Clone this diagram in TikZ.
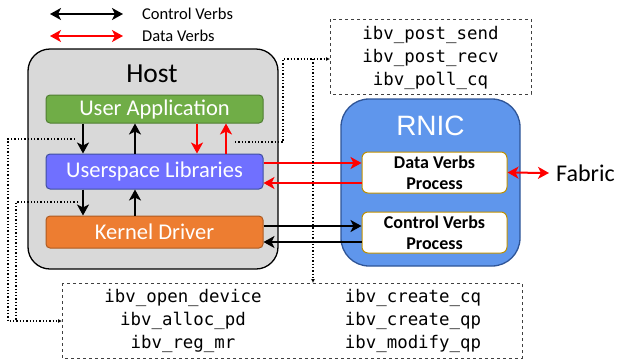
\documentclass[tikz,border=0pt]{standalone}
\usepackage{fontspec}
\setmainfont{Carlito}
\newfontfamily\codefont{DejaVu Sans Mono}
\newfontfamily\arialfont{Liberation Sans}
\usetikzlibrary{arrows.meta,calc}

\definecolor{hostfill}{HTML}{D9D9D9}
\definecolor{appfill}{HTML}{70AD47}
\definecolor{appline}{HTML}{507E32}
\definecolor{libfill}{HTML}{7070FF}
\definecolor{libline}{HTML}{3F4FA0}
\definecolor{drvfill}{HTML}{ED7D31}
\definecolor{drvline}{HTML}{AE5A21}
\definecolor{nicfill}{HTML}{5F96EC}
\definecolor{nicline}{HTML}{2F5597}
\definecolor{procline}{HTML}{BF9000}
\definecolor{datared}{HTML}{FF0000}

\tikzset{
  layerbox/.style={draw, line width=1pt, rounded corners=4pt,
    minimum width=217pt, text=white,
    font=\fontsize{22.5}{26}\selectfont, inner sep=0pt},
  procbox/.style={draw=procline, fill=white, line width=1pt, rounded corners=6pt,
    minimum width=145pt, minimum height=41pt, align=center, inner sep=0pt,
    font=\bfseries\fontsize{18}{21}\selectfont},
  verbbox/.style={draw=black!75, dashed, line width=0.6pt},
  codetext/.style={font=\codefont\fontsize{17.4}{23}\selectfont, align=center, inner sep=0pt},
  ctl/.style={draw=black, line width=2pt},
  dat/.style={draw=datared, line width=2pt},
  link/.style={draw=black, dotted, line width=1.3pt, -{Latex[length=4pt,width=4pt]}},
  linknotip/.style={draw=black, dotted, line width=1.3pt},
  legendtext/.style={anchor=west, font=\fontsize{16.5}{19}\selectfont, inner sep=0pt}
}

\begin{document}
\begin{tikzpicture}[x=1pt,y=-1pt,
  >={Stealth[length=11pt,width=12pt,inset=3pt]}]
\useasboundingbox (0,0) rectangle (619,360);

% legend
\coordinate (lgA1) at (50,14);  \coordinate (lgA2) at (123,14);
\coordinate (lgB1) at (50,36);  \coordinate (lgB2) at (123,36);
\draw[ctl, <->] (lgA1) -- (lgA2);
\draw[dat, <->] (lgB1) -- (lgB2);
\node[legendtext] (lgctl) at (142,14) {Control Verbs};
\node[legendtext] (lgdat) at (142,36) {Data Verbs};

% host
\draw[fill=hostfill, line width=1.3pt, rounded corners=22pt] (28,49) rectangle (278,269);
\node[anchor=base, inner sep=0pt, font=\fontsize{27.5}{32}\selectfont] (hostlbl) at (152,82) {Host};

\node[layerbox, fill=appfill, draw=appline, minimum height=28pt] (ua) at (154.5,109) {User Application};
\node[layerbox, fill=libfill, draw=libline, minimum height=35pt] (ul) at (154.5,171.5) {Userspace Libraries};
\node[layerbox, fill=drvfill, draw=drvline, minimum height=32pt] (kd) at (154.5,232) {Kernel Driver};

% RNIC
\draw[fill=nicfill, draw=nicline, line width=1.3pt, rounded corners=28pt] (341,99) rectangle (520,266);
\node[anchor=base, inner sep=0pt, text=white, font=\arialfont\fontsize{28}{32}\selectfont] (niclbl) at (430.5,135.5) {RNIC};
\node[procbox] (dvp) at (434.5,172.5) {Data Verbs\\Process};
\node[procbox] (cvp) at (434.5,232.5) {Control Verbs\\Process};

% fabric
\node[anchor=west, inner sep=0pt, font=\fontsize{24}{28}\selectfont] (fabric) at (556,173) {Fabric};
\draw[dat, <->] (dvp.east) -- (fabric.west -| 549,0);

% host internal arrows
\draw[ctl, ->] (ua.south -| 83,0) -- (ul.north -| 83,0);
\draw[ctl, ->] (ul.north -| 135,0) -- (ua.south -| 135,0);
\draw[dat, ->] (ua.south -| 197,0) -- (ul.north -| 197,0);
\draw[dat, ->] (ul.north -| 226,0) -- (ua.south -| 226,0);
\draw[ctl, ->] (ul.south -| 83,0) -- (kd.north -| 83,0);
\draw[ctl, ->] (kd.north -| 135,0) -- (ul.south -| 135,0);

% host <-> RNIC
\draw[dat, ->] (ul.east |- 0,163) -- (dvp.west |- 0,163);
\draw[dat, ->] (dvp.west |- 0,183) -- (ul.east |- 0,183);
\draw[ctl, ->] (kd.east |- 0,226) -- (cvp.west |- 0,226);
\draw[ctl, ->] (cvp.west |- 0,242) -- (kd.east |- 0,242);

% verb lists
\draw[verbbox] (330,19) rectangle (531,94);
\node[codetext] (datverbs) at (430.5,58) {ibv\_post\_send\\ibv\_post\_recv\\ibv\_poll\_cq};
\coordinate (topin) at (330,59);

\draw[verbbox] (62,283) rectangle (522,358);
\node[codetext] (ctlverbsA) at (183,321) {ibv\_open\_device\\ibv\_alloc\_pd\\ibv\_reg\_mr};
\node[codetext] (ctlverbsB) at (413,321) {ibv\_create\_cq\\ibv\_create\_qp\\ibv\_modify\_qp};
\coordinate (botin) at (62,321);
\coordinate (bottop) at (313,283);

% dotted call links
\coordinate (dA) at (75,139);
\coordinate (dB) at (78,202);
\coordinate (dC) at (235,142);
\coordinate (dD) at (313,59);
\draw[link] (dA) -- (8,139) -- (8,321) -- (botin);
\draw[linknotip] (dB) -- (16,202) -- (16,321);
\draw[link] (dC) -- (283,142) -- (283,59) -- (topin);
\draw[link] (dD) -- (bottop);
\end{tikzpicture}
\end{document}
